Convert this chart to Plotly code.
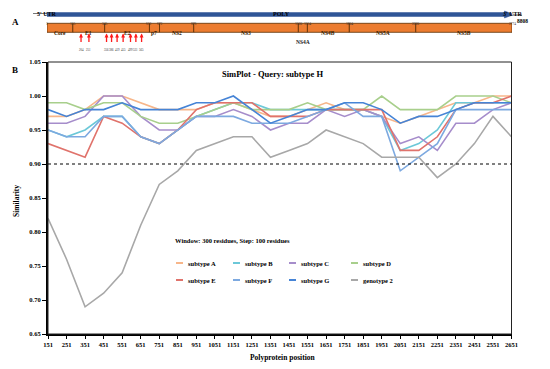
import plotly.graph_objects as go

# ---------------- data ----------------
positions = [151, 251, 351, 451, 551, 651, 751, 851, 951, 1051, 1151, 1251, 1351,
             1451, 1551, 1651, 1751, 1851, 1951, 2051, 2151, 2251, 2351, 2451, 2551, 2651]

subtype_A = [.97, .97, .98, 1.00, 1.00, .99, .98, .98, .98, .99, .99, .98, .97,
             .97, .98, .99, .98, .98, .97, .96, .97, .98, .99, .99, 1.00, 1.00]
subtype_B = [.95, .94, .95, .97, .97, .94, .93, .95, .97, .98, .99, .99, .98,
             .98, .98, .98, .98, .98, .97, .92, .93, .95, .99, .99, .99, .99]
subtype_C = [.96, .96, .97, 1.00, 1.00, .97, .95, .95, .97, .97, .98, .97, .95,
             .96, .96, .98, .97, .98, .97, .93, .94, .92, .96, .96, .98, .99]
subtype_D = [.99, .99, .98, .99, .99, .97, .96, .96, .97, .98, .99, .98, .98,
             .98, .99, .98, .98, .98, 1.00, .98, .98, .98, 1.00, 1.00, 1.00, .99]
subtype_E = [.93, .92, .91, .97, .96, .94, .93, .95, .98, .99, .99, .99, .97,
             .97, .97, .98, .98, .98, .98, .92, .92, .94, .98, .99, .99, 1.00]
subtype_F = [.95, .94, .94, .97, .97, .94, .93, .95, .97, .97, .97, .96, .96,
             .96, .97, .98, .99, .97, .97, .89, .91, .93, .98, .98, .98, .98]
subtype_G = [.98, .97, .98, .98, .99, .98, .98, .98, .99, .99, 1.00, .98, .96,
             .97, .98, .98, .99, .99, .98, .96, .97, .97, .98, .99, .99, .99]
genotype_2 = [.82, .76, .69, .71, .74, .81, .87, .89, .92, .93, .94, .94, .91,
              .92, .93, .95, .94, .93, .91, .91, .91, .88, .90, .93, .97, .94]

series_names = ["subtype A", "subtype B", "subtype C", "subtype D",
                "subtype E", "subtype F", "subtype G", "genotype 2"]
series_values = [subtype_A, subtype_B, subtype_C, subtype_D,
                 subtype_E, subtype_F, subtype_G, genotype_2]
series_colors = ["#F7B68A", "#6CC8D8", "#A68DCB", "#A8CF8C",
                 "#E0736C", "#7DA9E0", "#4684D6", "#A8A8A8"]

x_tick_labels = ["151", "251", "351", "451", "551", "651", "751", "851", "951", "1051",
                 "1151", "1251", "1351", "1451", "1551", "1651", "1751", "1851", "1951",
                 "2051", "2151", "2251", "2351", "2451", "2551", "2651"]
y_ticks = [0.65, 0.70, 0.75, 0.80, 0.85, 0.90, 0.95, 1.00, 1.05]
threshold = 0.90

gene_names = ["Core", "E1", "E2", "p7", "NS2", "NS3", "NS4A", "NS4B", "NS5A", "NS5B"]
gene_bounds = [1, 155, 345, 612, 672, 876, 1500, 1554, 1804, 2200, 2774]
mutation_sites = [204, 251, 356, 386, 419, 455, 499, 531, 565]

# ---------------- helpers ----------------
W, H = 550, 369
FONT = "Liberation Serif, Times New Roman, serif"


def fx(px):
    return px / W


def fy(py):
    return 1 - py / H


fig = go.Figure()
for name, vals, col in zip(series_names, series_values, series_colors):
    fig.add_trace(go.Scatter(x=positions, y=vals, mode="lines", name=name,
                             line=dict(color=col, width=1.6), showlegend=False,
                             xaxis="x", yaxis="y"))

shapes = []
annotations = []

# plot frame and threshold line
shapes.append(dict(type="rect", xref="x domain", yref="y domain", x0=0, x1=1, y0=0, y1=1,
                   line=dict(color="#222", width=1), layer="above"))
shapes.append(dict(type="line", xref="x domain", yref="y", x0=0, x1=1,
                   y0=threshold, y1=threshold, line=dict(color="black", width=1, dash="dot")))

# title, window text, axis titles
annotations.append(dict(text="SimPlot - Query: subtype H", x=fx(272), y=fy(74), xref="paper",
                        yref="paper", showarrow=False, xanchor="center", yanchor="middle",
                        font=dict(family=FONT, size=8.5, weight="bold")))
annotations.append(dict(text="Window: 300 residues, Step: 100 residues", x=fx(173), y=fy(240),
                        xref="paper", yref="paper", showarrow=False, xanchor="left",
                        yanchor="middle", font=dict(family=FONT, size=6.5, weight="bold")))
annotations.append(dict(text="Polyprotein position", x=fx(282), y=fy(357), xref="paper",
                        yref="paper", showarrow=False, xanchor="center", yanchor="middle",
                        font=dict(family=FONT, size=7.5, weight="bold")))
annotations.append(dict(text="Similarity", x=fx(16), y=fy(201), xref="paper", yref="paper",
                        showarrow=False, textangle=-90, xanchor="center", yanchor="middle",
                        font=dict(family=FONT, size=7.5, weight="bold")))
annotations.append(dict(text="A", x=fx(10), y=fy(15), xref="paper", yref="paper",
                        showarrow=False, font=dict(family=FONT, size=9, weight="bold")))
annotations.append(dict(text="B", x=fx(10), y=fy(63), xref="paper", yref="paper",
                        showarrow=False, font=dict(family=FONT, size=9, weight="bold")))

# manual legend (2 rows x 4 columns)
leg_cols_px = [176, 233, 289, 351]
leg_rows_py = [263, 280]
for i, (name, col) in enumerate(zip(series_names, series_colors)):
    cx = leg_cols_px[i % 4]
    ry = leg_rows_py[i // 4]
    shapes.append(dict(type="line", xref="paper", yref="paper", x0=fx(cx), x1=fx(cx + 7),
                       y0=fy(ry), y1=fy(ry), line=dict(color=col, width=2)))
    annotations.append(dict(text=name, x=fx(cx + 10), y=fy(ry), xref="paper", yref="paper",
                            showarrow=False, xanchor="left", yanchor="middle",
                            font=dict(family=FONT, size=6.5, weight="bold")))

# ---------------- genome diagram (panel A) ----------------
shapes.append(dict(type="line", xref="x2", yref="paper", x0=gene_bounds[0], x1=gene_bounds[-1] - 40,
                   y0=fy(14.5), y1=fy(14.5), line=dict(color="#2F5597", width=4.5)))
shapes.append(dict(type="path", xref="x2", yref="paper",
                   path=f"M {gene_bounds[-1] - 45},{fy(11)} L {gene_bounds[-1] + 12},{fy(14.5)} "
                        f"L {gene_bounds[-1] - 45},{fy(18)} Z",
                   fillcolor="#2F5597", line=dict(color="#2F5597", width=0.5)))
shapes.append(dict(type="line", xref="paper", yref="paper", x0=fx(33), x1=fx(47),
                   y0=fy(13.5), y1=fy(13.5), line=dict(color="#777", width=1)))
shapes.append(dict(type="line", xref="paper", yref="paper", x0=fx(513), x1=fx(522),
                   y0=fy(15), y1=fy(15), line=dict(color="#555", width=1)))
annotations.append(dict(text="5' UTR", x=fx(35), y=fy(9), xref="paper", yref="paper",
                        showarrow=False, font=dict(family=FONT, size=6, weight="bold")))
annotations.append(dict(text="POLY", x=fx(281), y=fy(9), xref="paper", yref="paper",
                        showarrow=False, font=dict(family=FONT, size=6, weight="bold")))
annotations.append(dict(text="3' UTR", x=fx(525), y=fy(9), xref="paper", yref="paper",
                        showarrow=False, font=dict(family=FONT, size=6, weight="bold")))
annotations.append(dict(text="8808", x=fx(530), y=fy(16), xref="paper", yref="paper",
                        showarrow=False, font=dict(family=FONT, size=5.5, weight="bold")))

for i, name in enumerate(gene_names):
    x0, x1 = gene_bounds[i], gene_bounds[i + 1]
    shapes.append(dict(type="rect", xref="x2", yref="paper", x0=x0, x1=x1,
                       y0=fy(32.3), y1=fy(23.3), fillcolor="#EC7C30",
                       line=dict(color="#5A2C00", width=0.8)))
    if name == "NS4A":
        annotations.append(dict(text=name, x=(x0 + x1) / 2, y=fy(37.5), xref="x2", yref="paper",
                                showarrow=False, font=dict(family=FONT, size=5.5, weight="bold",
                                                           color="#222")))
    else:
        annotations.append(dict(text=name, x=(x0 + x1) / 2, y=fy(27.8), xref="x2", yref="paper",
                                showarrow=False, font=dict(family=FONT, size=5.5, weight="bold",
                                                           color="#3A1C00")))
for b in gene_bounds:
    annotations.append(dict(text=str(b), x=b, y=fy(20.3), xref="x2", yref="paper",
                            showarrow=False, font=dict(family=FONT, size=3.5, color="#333")))

for m in mutation_sites:
    annotations.append(dict(text="", x=m, y=fy(33.5), xref="x2", yref="paper", showarrow=True,
                            ax=0, ay=10, arrowhead=2, arrowsize=0.6, arrowwidth=1.3,
                            arrowcolor="#FF1A1A"))
    annotations.append(dict(text=str(m), x=m, y=fy(46.5), xref="x2", yref="paper",
                            showarrow=False, font=dict(family=FONT, size=3, color="#333")))

fig.update_layout(
    width=W, height=H, margin=dict(l=0, r=0, t=0, b=0, autoexpand=False),
    paper_bgcolor="white", plot_bgcolor="white", showlegend=False,
    font=dict(family=FONT, color="black", size=7),
    xaxis=dict(domain=[fx(48), fx(511.5)], range=[151, 2651], tickvals=positions,
               ticktext=x_tick_labels, ticks="outside", ticklen=3, tickwidth=1,
               tickcolor="black", showline=True, linewidth=2, linecolor="black",
               showgrid=False, zeroline=False, anchor="y", automargin=False,
               tickfont=dict(family=FONT, size=6.5, weight="bold", color="black")),
    yaxis=dict(domain=[fy(334), fy(62)], range=[0.65, 1.05], tickvals=y_ticks,
               tickformat=".2f", ticks="outside", ticklen=4, tickwidth=1, tickcolor="black",
               showline=True, linewidth=2, linecolor="black", showgrid=False,
               zeroline=False, anchor="x", automargin=False,
               tickfont=dict(family=FONT, size=6.5, weight="bold", color="black")),
    xaxis2=dict(domain=[fx(47), fx(512)], range=[gene_bounds[0], gene_bounds[-1]],
                visible=False, anchor="y2"),
    yaxis2=dict(domain=[fy(40), fy(5)], range=[0, 1], visible=False, anchor="x2"),
    shapes=shapes, annotations=annotations,
)

fig.write_html("out.html", config={"displayModeBar": False},
               post_script="document.body.style.margin='0px';")
